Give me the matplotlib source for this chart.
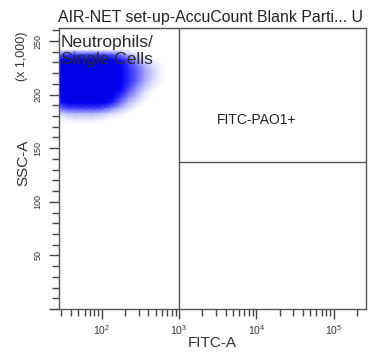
import numpy as np
import matplotlib
matplotlib.use("Agg")
import matplotlib.pyplot as plt
from matplotlib.colors import LinearSegmentedColormap
from matplotlib.ticker import LogLocator, FixedLocator, NullFormatter, FuncFormatter

plt.rcParams['font.family'] = ['Liberation Sans', 'DejaVu Sans']
plt.rcParams['mathtext.default'] = 'regular'

# ---- data ----
title = "AIR-NET set-up-AccuCount Blank Parti... U"
x_label = "FITC-A"
y_label = "SSC-A"
y_scale_label = "(x 1,000)"
gate_left = "Neutrophils/\nSingle Cells"
gate_right = "FITC-PAO1+"
x_limits = [28, 262144]
y_limits = [0, 262.144]
gate_x = 1000          # FITC threshold
gate_y = 137           # SSC (x1000) threshold of lower-right region
y_major = [0, 50, 100, 150, 200, 250]
x_major = [1e2, 1e3, 1e4, 1e5]

# event density grid (log10 FITC centres x SSC centres)
dens_logx = [1.45, 1.55, 1.65, 1.75, 1.85, 1.95, 2.05, 2.15, 2.25, 2.35, 2.45, 2.55, 2.65, 2.75, 2.85]
dens_y = [242, 237, 232, 227, 222, 217, 212, 207, 202, 197, 192, 187, 182, 177, 172]
density = [
    [0, 0, 0, 0, 0, 0, 0, 0, 0, 0, 0, 0, 0, 0, 0],
    [.3, .4, .45, .45, .45, .45, .4, .35, .25, .12, .05, 0, 0, 0, 0],
    [1, 1, 1, 1, 1, 1, 1, .9, .6, .35, .18, .07, .02, 0, 0],
    [1, 1, 1, 1, 1, 1, 1, 1, .75, .45, .28, .14, .06, .02, 0],
    [1, 1, 1, 1, 1, 1, 1, 1, .8, .5, .32, .17, .08, .02, 0],
    [1, 1, 1, 1, 1, 1, 1, 1, .8, .5, .32, .17, .08, .02, 0],
    [1, 1, 1, 1, 1, 1, 1, 1, .8, .5, .3, .15, .06, .02, 0],
    [1, 1, 1, 1, 1, 1, 1, 1, .7, .4, .22, .1, .04, 0, 0],
    [1, 1, 1, 1, 1, 1, 1, .9, .6, .3, .15, .05, 0, 0, 0],
    [.9, 1, 1, 1, 1, 1, 1, .8, .4, .2, .1, .03, 0, 0, 0],
    [.6, .8, .9, .9, .9, .9, .8, .5, .25, .1, .05, 0, 0, 0, 0],
    [.25, .35, .4, .4, .4, .4, .3, .2, .1, .05, 0, 0, 0, 0, 0],
    [.06, .1, .12, .12, .12, .1, .08, .05, .03, 0, 0, 0, 0, 0, 0],
    [0, .03, .04, .04, .04, .03, .02, 0, 0, 0, 0, 0, 0, 0, 0],
    [0, 0, 0, 0, 0, 0, 0, 0, 0, 0, 0, 0, 0, 0, 0],
]

# ---- figure ----
fig = plt.figure(figsize=(3.74, 3.54), dpi=100)
ax = fig.add_axes([59/374, 1-309/354, (366-59)/374, (309-28)/354])

cmap = LinearSegmentedColormap.from_list(
    "events", [(0, (1, 1, 1)), (0.1, (0.75, 0.75, 1)), (0.35, (0.3, 0.3, 1)),
               (0.7, (0, 0, 1)), (1, (0, 0, 0.9))])
X, Y = np.meshgrid(10 ** np.array(dens_logx), np.array(dens_y))
ax.pcolormesh(X, Y, np.array(density), shading='gouraud', cmap=cmap, vmin=0, vmax=1,
              antialiased=False, zorder=1)

ax.set_xscale('log')
ax.set_xlim(x_limits)
ax.set_ylim(y_limits)

line_col = '#555555'
ax.axvline(gate_x, color=line_col, lw=1.0, zorder=3)
ax.plot([gate_x, x_limits[1]], [gate_y, gate_y], color=line_col, lw=1.0, zorder=3)
for s in ax.spines.values():
    s.set_color(line_col)
    s.set_linewidth(1.0)
    s.set_zorder(4)

# ticks
ax.xaxis.set_major_locator(FixedLocator(x_major))
ax.xaxis.set_minor_locator(LogLocator(base=10, subs=np.arange(2, 10), numticks=20))
ax.xaxis.set_minor_formatter(NullFormatter())
ax.xaxis.set_major_formatter(FuncFormatter(lambda v, p: r"$10^{%d}$" % round(np.log10(v))))
ax.yaxis.set_major_locator(FixedLocator(y_major))
ax.yaxis.set_minor_locator(FixedLocator(list(range(0, 261, 10))))
ax.yaxis.set_major_formatter(FuncFormatter(lambda v, p: "" if v == 0 else "%d" % v))
ax.tick_params(axis='both', which='both', direction='out', color='#444444', width=1.0)
ax.tick_params(axis='x', which='major', length=7, labelsize=7.5, labelcolor='#333333', pad=3)
ax.tick_params(axis='y', which='major', length=7, labelsize=6.5, labelcolor='#333333', pad=5)
ax.tick_params(axis='both', which='minor', length=5)
for lab in ax.get_yticklabels():
    lab.set_rotation(90)
    lab.set_va('center')

# texts
fig.text(58/374, 1-22/354, title, fontsize=11.4, color='#222222', ha='left', va='baseline')
ax.text(0.005, 0.975, gate_left, transform=ax.transAxes, fontsize=12.5, color='#2a2a2a',
        ha='left', va='top', linespacing=1.15, zorder=5)
ax.text(1e4, 176, gate_right, fontsize=10, color='#222222', ha='center', va='center', zorder=5)
fig.text(212/374, 1-343/354, x_label, fontsize=11, color='#333333', ha='center', va='center')
fig.text(23/374, 1-163/354, y_label, fontsize=11, color='#333333', ha='center', va='center', rotation=90)
fig.text(22/374, 1-56/354, y_scale_label, fontsize=9, color='#333333', ha='center', va='center', rotation=90)

fig.savefig("out.png", dpi=100, facecolor='white')
